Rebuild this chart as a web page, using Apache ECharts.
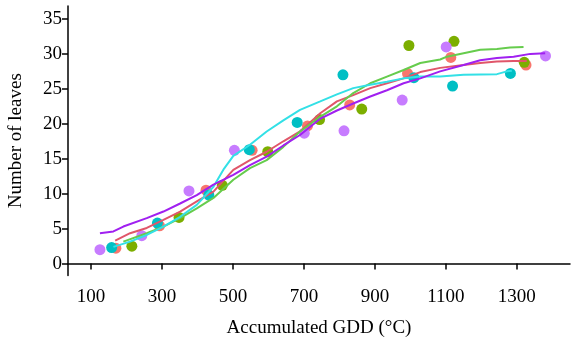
<!DOCTYPE html>
<html>
<head>
<meta charset="utf-8">
<style>
  html, body { margin: 0; padding: 0; background: #fff; }
  #chart { width: 571px; height: 345px; }
</style>
<script src="https://cdn.jsdelivr.net/npm/echarts@6/dist/echarts.min.js"></script>
</head>
<body>
<div id="chart"></div>
<script>
  // observed points (GDD, leaves) per group
  var redPts = [[170, 2.2], [293, 5.4], [424, 10.5], [554, 16.2], [710, 19.7], [829, 22.7], [992, 27.2], [1114, 29.5], [1326, 28.4]];
  var greenPts = [[215, 2.5], [348, 6.6], [470, 11.2], [598, 16.0], [744, 20.6], [863, 22.1], [996, 31.2], [1123, 31.8], [1321, 28.8]];
  var cyanPts = [[158, 2.3], [287, 5.8], [432, 9.8], [546, 16.3], [681, 20.2], [810, 27.0], [1010, 26.6], [1119, 25.4], [1282, 27.2]];
  var purplePts = [[125, 2.0], [243, 4.0], [376, 10.4], [504, 16.2], [701, 18.65], [813, 19.0], [977, 23.4], [1101, 31.0], [1381, 29.7]];

  // fitted curves
  var redFit = [[168, 3.3], [210, 4.35], [257, 5.1], [304, 6.25], [351, 7.45], [398, 8.9], [445, 10.3], [501, 13.4], [548, 14.8], [595, 16.0], [642, 17.5], [689, 18.9], [746, 21.5], [793, 23.2], [839, 24.1], [887, 25.1], [934, 25.8], [981, 26.5], [1028, 27.4], [1084, 28.0], [1150, 28.4], [1197, 28.7], [1244, 28.9], [1291, 29.0], [1328, 29.0]];
  var greenFit = [[191, 3.15], [257, 4.35], [304, 5.3], [351, 6.5], [398, 7.9], [445, 9.4], [501, 12.0], [548, 13.65], [595, 14.8], [642, 16.7], [689, 18.9], [740, 20.8], [793, 22.5], [839, 24.4], [887, 25.8], [934, 26.75], [981, 27.7], [1028, 28.7], [1084, 29.2], [1103, 29.6], [1150, 30.1], [1197, 30.6], [1244, 30.7], [1281, 30.9], [1319, 31.0]];
  var cyanFit = [[163, 2.4], [210, 3.15], [257, 4.1], [304, 5.3], [351, 6.7], [398, 8.4], [445, 11.0], [475, 13.6], [501, 15.4], [548, 17.0], [595, 18.9], [642, 20.5], [689, 22.0], [746, 23.2], [793, 24.2], [839, 25.1], [887, 25.6], [934, 26.0], [981, 26.5], [1028, 26.75], [1084, 26.75], [1150, 27.0], [1244, 27.1], [1272, 27.5], [1286, 27.6]];
  var purpleFit = [[125, 4.35], [163, 4.6], [191, 5.3], [257, 6.5], [304, 7.45], [351, 8.6], [398, 9.8], [445, 11.3], [501, 12.7], [548, 14.1], [595, 15.3], [642, 16.9], [689, 18.4], [745, 20.7], [793, 21.9], [839, 22.9], [887, 23.9], [934, 24.8], [981, 25.8], [1028, 26.5], [1084, 27.5], [1150, 28.4], [1197, 29.1], [1244, 29.4], [1291, 29.6], [1338, 30.0], [1380, 30.1]];

  var xTicks = [100, 300, 500, 700, 900, 1100, 1300];
  var yTicks = [0, 5, 10, 15, 20, 25, 30, 35];

  var pointColors = ['#F8766D', '#7CAE00', '#00BFC4', '#C77CFF'];
  var lineColors = ['#E0566A', '#66CC4D', '#33E0E6', '#A020F0'];
  var groups = [[redPts, redFit], [greenPts, greenFit], [cyanPts, cyanFit], [purplePts, purpleFit]];

  var font = '"Liberation Serif", "Times New Roman", serif';

  var series = [];
  groups.forEach(function(g, i) {
    series.push({
      type: 'scatter',
      data: g[0],
      symbol: 'circle',
      symbolSize: 11,
      itemStyle: { color: pointColors[i], opacity: 1 },
      z: 2
    });
  });
  groups.forEach(function(g, i) {
    series.push({
      type: 'line',
      data: g[1],
      showSymbol: false,
      smooth: false,
      lineStyle: { color: lineColors[i], width: 2 },
      z: 3
    });
  });

  var chart = echarts.init(document.getElementById('chart'), null, { renderer: 'canvas' });

  chart.setOption({
    animation: false,
    grid: { left: 68, right: 1, top: 6, bottom: 69.5, outerBoundsMode: 'none' },
    xAxis: {
      type: 'value',
      min: 35,
      max: 1450,
      name: 'Accumulated GDD (°C)',
      nameLocation: 'middle',
      nameGap: 43,
      nameTextStyle: { color: '#000', fontFamily: font, fontSize: 19 },
      axisLine: { show: true, lineStyle: { color: '#000', width: 1.5 } },
      axisTick: { show: true, length: 6, customValues: xTicks, lineStyle: { color: '#000', width: 1.5 } },
      axisLabel: {
        customValues: xTicks, color: '#000', fontFamily: font, fontSize: 19, margin: 12,
        formatter: function(v) { return String(v); }
      },
      splitLine: { show: false }
    },
    yAxis: {
      type: 'value',
      min: -1.7,
      max: 36.85,
      name: 'Number of leaves',
      nameLocation: 'middle',
      nameGap: 42,
      nameTextStyle: { color: '#000', fontFamily: font, fontSize: 19 },
      axisLine: { show: true, lineStyle: { color: '#000', width: 1.5 } },
      axisTick: { show: true, length: 6, customValues: yTicks, lineStyle: { color: '#000', width: 1.5 } },
      axisLabel: {
        customValues: yTicks, color: '#000', fontFamily: font, fontSize: 19, margin: 6,
        formatter: function(v) { return String(v); }
      },
      splitLine: { show: false }
    },
    series: series
  });

  window.addEventListener('resize', function() {
    chart && chart.resize();
  });
</script>
</body>
</html>
